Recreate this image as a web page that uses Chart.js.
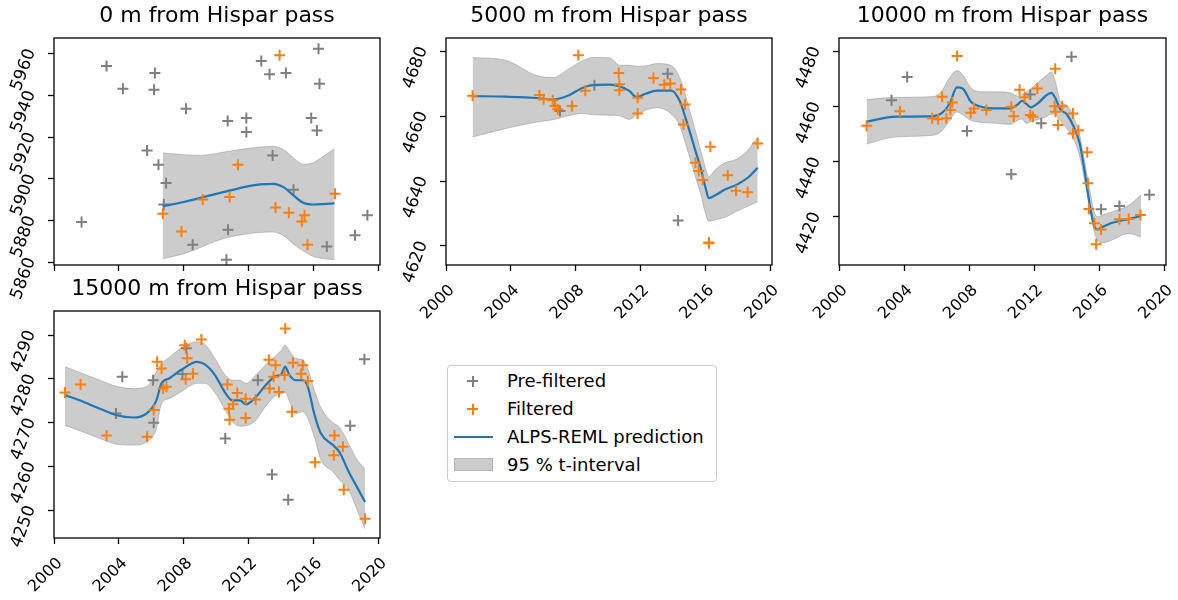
<!DOCTYPE html>
<html>
<head>
<meta charset="utf-8">
<script src="https://cdn.jsdelivr.net/npm/chart.js@4.4.1/dist/chart.umd.min.js"></script>
<style>
  body {
    margin: 0;
    background: #fff;
    width: 1178px;
    height: 600px;
    overflow: hidden;
    position: relative;
    font-family: "DejaVu Sans", sans-serif;
  }
  canvas.panel { position: absolute; }
  #legend {
    position: absolute;
    left: 447px;
    top: 365px;
    width: 270px;
    height: 117px;
    border: 1px solid #cccccc;
    border-radius: 4px;
    box-sizing: border-box;
  }
  #legend .row {
    position: absolute;
    left: 0;
    width: 100%;
    height: 22px;
  }
  #legend .txt {
    position: absolute;
    left: 59px;
    top: 0;
    line-height: 22px;
    font-size: 18px;
    color: #000;
    white-space: nowrap;
  }
  #legend .plus-h, #legend .plus-v { position: absolute; }
  #legend .plus-h { left: 19px; top: 10px; width: 11px; height: 2px; }
  #legend .plus-v { left: 23.5px; top: 5.5px; width: 2px; height: 11px; }
  #legend .line { position: absolute; left: 6px; top: 10px; width: 39px; height: 2px; background: #1f77b4; }
  #legend .band {
    position: absolute; left: 6px; top: 4px; width: 39px; height: 13px;
    background: rgba(128,128,128,0.4); box-sizing: border-box;
    border: 1px solid rgba(128,128,128,0.3);
  }
</style>
</head>
<body>

<canvas class="panel" id="panel0" width="394" height="327" style="left:0px; top:0px;"></canvas>
<canvas class="panel" id="panel1" width="394" height="327" style="left:392px; top:0px;"></canvas>
<canvas class="panel" id="panel2" width="395" height="327" style="left:785px; top:0px;"></canvas>
<canvas class="panel" id="panel3" width="394" height="327" style="left:0px; top:273px;"></canvas>

<div id="legend">
  <div class="row" style="top:4px;">
    <span class="plus-h" style="background:#808080;"></span><span class="plus-v" style="background:#808080;"></span>
    <span class="txt">Pre-filtered</span>
  </div>
  <div class="row" style="top:32px;">
    <span class="plus-h" style="background:#ff7f0e;"></span><span class="plus-v" style="background:#ff7f0e;"></span>
    <span class="txt">Filtered</span>
  </div>
  <div class="row" style="top:60px;">
    <span class="line"></span>
    <span class="txt">ALPS-REML prediction</span>
  </div>
  <div class="row" style="top:88px;">
    <span class="band"></span>
    <span class="txt">95 % t-interval</span>
  </div>
</div>

<script>
// Glacier surface elevation (m) against time (decimal years), at four
// distances from Hispar pass. Grey = all (pre-filtered) points, orange =
// points kept after filtering, blue = ALPS-REML fit with its 95 % band.

// ---------------------------------------------------------------- shared
var xTicks = [2000, 2004, 2008, 2012, 2016, 2020];
var xRange = [2000, 2020.1];

// ---------------------------------------------------------------- 0 m
var title0 = "0 m from Hispar pass";
var yTicks0 = [5860, 5880, 5900, 5920, 5940, 5960];
var yRange0 = [5858.7, 5967.5];
var preYears0 = [2001.70, 2003.24, 2004.25, 2006.22, 2006.17, 2005.74, 2006.44, 2006.91, 2006.77, 2008.14,
                 2008.55, 2010.71, 2010.73, 2010.63, 2011.86, 2011.86, 2012.78, 2013.29, 2014.30, 2013.48,
                 2014.77, 2016.31, 2016.37, 2015.86, 2016.21, 2016.82, 2018.56, 2019.32];
var preElev0  = [5879.3, 5954.1, 5943.2, 5950.7, 5942.7, 5913.6, 5906.8, 5898.0, 5887.7, 5933.6,
                 5868.4, 5927.7, 5875.6, 5861.2, 5929.1, 5922.4, 5956.5, 5950.1, 5950.7, 5911.2,
                 5894.8, 5962.4, 5945.6, 5929.1, 5923.2, 5867.6, 5872.9, 5882.5];
var filtYears0 = [2006.71, 2007.86, 2009.17, 2010.83, 2011.34, 2013.91, 2013.66, 2014.48, 2015.28, 2015.45, 2015.63, 2017.33];
var filtElev0  = [5883.3, 5874.8, 5890.1, 5891.3, 5906.8, 5959.2, 5886.3, 5883.7, 5879.6, 5882.5, 5868.4, 5892.9];
var predYears0 = [2006.7, 2008.0, 2009.0, 2010.0, 2011.0, 2012.0, 2012.7, 2013.5, 2014.2, 2014.8, 2015.4, 2016.0, 2016.6, 2017.3];
var pred0      = [5886.9, 5888.9, 5890.8, 5892.8, 5894.7, 5896.5, 5897.3, 5897.6, 5895.8, 5891.8, 5888.4, 5887.7, 5887.9, 5888.3];
var upper0     = [5912.4, 5911.6, 5911.2, 5912.2, 5913.5, 5914.6, 5915.2, 5915.6, 5913.8, 5909.8, 5907.0, 5907.8, 5910.8, 5914.4];
var lower0     = [5861.7, 5864.1, 5867.0, 5870.2, 5872.4, 5873.7, 5874.3, 5874.5, 5872.5, 5868.5, 5865.3, 5862.8, 5861.8, 5861.2];

// ---------------------------------------------------------------- 5000 m
var title1 = "5000 m from Hispar pass";
var yTicks1 = [4620, 4640, 4660, 4680];
var yRange1 = [4614.1, 4684.1];
var preYears1 = [2007.03, 2009.15, 2013.67, 2014.31];
var preElev1  = [4661.6, 4669.5, 4673.1, 4627.8];
var filtYears1 = [2001.64, 2005.76, 2006.02, 2006.58, 2006.72, 2006.89, 2007.77, 2008.16, 2008.59, 2010.65,
                  2010.69, 2010.69, 2011.82, 2011.82, 2012.79, 2013.46, 2013.83, 2014.49, 2014.74, 2014.64,
                  2015.38, 2015.58, 2015.83, 2016.30, 2016.20, 2016.22, 2017.37, 2017.88, 2018.60, 2019.22];
var filtElev1  = [4666.3, 4666.5, 4665.2, 4664.9, 4663.1, 4662.1, 4663.1, 4678.8, 4667.8, 4673.3,
                  4669.8, 4668.0, 4665.7, 4660.8, 4671.8, 4669.7, 4670.1, 4668.2, 4663.6, 4657.4,
                  4645.6, 4643.1, 4640.3, 4650.6, 4621.0, 4620.8, 4641.8, 4637.0, 4636.5, 4651.6];
var predYears1 = [2001.64, 2003.7, 2005.6, 2006.6, 2007.6, 2008.4, 2009.1, 2010.1, 2010.7, 2011.3,
                  2011.75, 2012.3, 2013.0, 2013.9, 2014.4, 2014.8, 2015.1, 2015.4, 2015.7, 2016.0,
                  2016.2, 2016.6, 2017.2, 2017.9, 2018.6, 2019.22];
var pred1      = [4666.2, 4666.0, 4665.6, 4665.1, 4666.5, 4668.7, 4669.6, 4669.7, 4669.2, 4667.8,
                  4665.9, 4666.9, 4667.9, 4667.9, 4664.8, 4659.0, 4654.0, 4649.0, 4644.0, 4638.0,
                  4634.7, 4635.6, 4637.4, 4638.8, 4641.0, 4644.1];
var upper1     = [4678.1, 4677.2, 4672.5, 4671.9, 4674.7, 4677.0, 4678.1, 4678.0, 4675.7, 4675.7,
                  4675.4, 4675.5, 4676.2, 4675.6, 4672.0, 4665.9, 4660.5, 4655.0, 4649.5, 4644.0,
                  4641.3, 4643.5, 4645.6, 4646.7, 4649.5, 4653.6];
var lower1     = [4653.6, 4656.2, 4658.2, 4658.9, 4660.2, 4660.8, 4660.4, 4660.3, 4660.1, 4659.0,
                  4660.3, 4661.8, 4662.6, 4660.6, 4657.2, 4651.0, 4646.0, 4641.0, 4636.0, 4630.0,
                  4627.6, 4628.0, 4628.8, 4630.6, 4632.2, 4633.6];

// ---------------------------------------------------------------- 10000 m
var title2 = "10000 m from Hispar pass";
var yTicks2 = [4420, 4440, 4460, 4480];
var yRange2 = [4402.6, 4484.8];
var preYears2 = [2003.23, 2004.19, 2007.87, 2010.59, 2011.76, 2012.43, 2014.29, 2016.11, 2017.24, 2019.08];
var preElev2  = [4462.3, 4470.7, 4451.1, 4435.5, 4464.3, 4453.9, 4478.0, 4422.8, 4424.0, 4428.0];
var filtYears2 = [2001.70, 2003.74, 2005.73, 2006.09, 2006.34, 2006.60, 2006.85, 2006.97, 2007.26, 2008.10,
                  2008.30, 2009.06, 2010.59, 2010.74, 2011.10, 2011.41, 2011.76, 2011.92, 2012.19, 2013.29,
                  2013.25, 2013.31, 2013.46, 2013.72, 2014.38, 2014.38, 2014.72, 2015.26, 2015.30, 2015.36,
                  2015.70, 2015.81, 2016.11, 2017.24, 2017.81, 2018.53];
var filtElev2  = [4453.0, 4458.3, 4455.7, 4455.4, 4463.5, 4455.7, 4458.7, 4461.4, 4478.3, 4457.7,
                  4459.3, 4458.7, 4459.9, 4456.5, 4466.1, 4463.3, 4456.9, 4456.3, 4466.5, 4473.7,
                  4460.1, 4458.1, 4453.3, 4460.1, 4457.5, 4450.2, 4451.4, 4443.4, 4432.2, 4422.9,
                  4417.7, 4410.1, 4415.5, 4419.2, 4419.3, 4420.7];
var predYears2 = [2001.7, 2003.5, 2005.8, 2006.3, 2006.8, 2007.25, 2007.6, 2008.1, 2008.8, 2009.5,
                  2010.5, 2011.0, 2011.25, 2011.5, 2011.8, 2012.2, 2012.7, 2013.05, 2013.3, 2013.6,
                  2014.0, 2014.4, 2014.8, 2015.1, 2015.4, 2015.7, 2015.9, 2016.2, 2016.8, 2017.8, 2018.57];
var pred2      = [4454.5, 4456.3, 4456.5, 4457.5, 4461.0, 4466.9, 4466.5, 4461.8, 4459.8, 4459.3,
                  4459.3, 4460.8, 4462.0, 4461.0, 4459.7, 4461.0, 4463.8, 4464.9, 4463.0, 4459.0,
                  4457.2, 4453.0, 4446.5, 4436.5, 4424.9, 4416.5, 4415.5, 4416.4, 4417.9, 4419.2, 4420.4];
var upper2     = [4462.5, 4463.3, 4463.6, 4465.5, 4470.5, 4473.0, 4471.5, 4466.8, 4465.3, 4465.3,
                  4465.0, 4463.8, 4464.3, 4465.3, 4466.5, 4468.6, 4471.0, 4472.5, 4469.0, 4462.0,
                  4460.5, 4456.5, 4449.5, 4440.0, 4430.0, 4421.5, 4420.1, 4420.7, 4421.9, 4424.2, 4428.0];
var lower2     = [4446.4, 4449.0, 4449.6, 4451.0, 4455.0, 4458.0, 4457.0, 4455.0, 4454.2, 4454.0,
                  4453.5, 4455.0, 4455.5, 4453.9, 4454.5, 4455.2, 4456.2, 4457.2, 4457.0, 4454.8,
                  4452.0, 4448.5, 4441.8, 4433.0, 4423.5, 4414.5, 4411.5, 4410.6, 4411.7, 4414.0, 4412.7];

// ---------------------------------------------------------------- 15000 m
var title3 = "15000 m from Hispar pass";
var yTicks3 = [4250, 4260, 4270, 4280, 4290];
var yRange3 = [4243.7, 4295.5];
var preYears3 = [2003.82, 2004.21, 2006.11, 2006.15, 2007.92, 2008.16, 2010.56, 2012.57, 2013.44, 2014.44, 2018.26, 2019.14];
var preElev3  = [4272.1, 4280.5, 4279.7, 4270.0, 4281.1, 4287.0, 4266.4, 4279.7, 4258.2, 4252.4, 4269.3, 4284.5];
var filtYears3 = [2000.68, 2001.64, 2003.24, 2005.74, 2006.15, 2006.36, 2006.63, 2006.73, 2006.93, 2008.06,
                  2008.21, 2008.12, 2008.57, 2009.09, 2010.69, 2010.79, 2010.83, 2011.04, 2011.30, 2011.82,
                  2011.82, 2012.43, 2013.25, 2013.29, 2013.54, 2013.66, 2013.87, 2014.26, 2014.22, 2014.67,
                  2014.73, 2015.34, 2015.24, 2015.65, 2016.10, 2017.29, 2017.25, 2017.81, 2017.87, 2019.18];
var filtElev3  = [4276.9, 4278.7, 4267.1, 4266.8, 4272.9, 4283.9, 4282.4, 4277.8, 4278.2, 4287.7,
                  4284.7, 4279.9, 4281.2, 4289.0, 4278.7, 4273.2, 4270.7, 4274.2, 4276.8, 4275.5,
                  4271.1, 4275.3, 4284.4, 4277.8, 4280.5, 4283.1, 4277.0, 4291.5, 4280.9, 4272.5,
                  4283.7, 4283.1, 4281.2, 4279.5, 4261.0, 4267.1, 4262.6, 4264.5, 4254.7, 4248.1];
var predYears3 = [2000.68, 2001.8, 2002.83, 2003.86, 2004.88, 2005.7, 2006.3, 2006.63, 2007.1, 2007.9,
                  2008.8, 2009.3, 2009.9, 2010.6, 2011.0, 2011.45, 2011.85, 2012.45, 2013.1, 2013.7,
                  2014.0, 2014.25, 2014.5, 2014.9, 2015.35, 2015.65, 2016.05, 2016.45, 2017.2, 2017.6,
                  2018.2, 2018.7, 2019.18];
var pred3      = [4276.3, 4274.8, 4273.2, 4271.7, 4271.2, 4272.1, 4275.0, 4279.0, 4280.1, 4282.2,
                  4283.9, 4283.3, 4281.0, 4276.6, 4275.1, 4275.1, 4274.2, 4275.9, 4278.8, 4280.7,
                  4281.0, 4282.8, 4281.0, 4279.7, 4279.7, 4278.2, 4272.0, 4267.6, 4264.9, 4263.3,
                  4258.6, 4255.2, 4251.9];
var upper3     = [4282.8, 4281.2, 4279.7, 4278.3, 4277.8, 4278.2, 4281.5, 4283.5, 4284.9, 4287.2,
                  4288.5, 4287.9, 4284.8, 4280.7, 4279.7, 4279.7, 4279.0, 4280.9, 4283.4, 4285.4,
                  4286.5, 4287.7, 4286.5, 4284.7, 4284.3, 4282.3, 4277.5, 4273.5, 4270.0, 4269.0,
                  4265.0, 4261.5, 4259.5];
var lower3     = [4269.4, 4267.9, 4266.4, 4265.1, 4264.9, 4265.6, 4268.5, 4274.4, 4275.5, 4277.2,
                  4279.0, 4279.0, 4277.0, 4272.6, 4270.2, 4269.2, 4269.3, 4270.6, 4274.0, 4276.3,
                  4276.5, 4277.0, 4275.0, 4272.1, 4272.5, 4271.0, 4266.8, 4261.6, 4258.8, 4257.0,
                  4254.4, 4250.0, 4245.8];

// ----------------------------------------------------------------------------

var FONT = "DejaVu Sans";
var ORANGE = "#ff7f0e";
var GREY = "#808080";
var BLUE = "#1f77b4";
var BAND = "rgba(128,128,128,0.4)";

// Pairs up two parallel arrays into Chart.js {x, y} points.
function zip(xs, ys) {
  return xs.map(function(x, i) { return { x: x, y: ys[i] }; });
}

// Draws the black box around the plotting area, like matplotlib spines.
var framePlugin = {
  id: "frame",
  afterDatasetsDraw: function(chart) {
    var a = chart.chartArea;
    var ctx = chart.ctx;
    ctx.save();
    ctx.strokeStyle = "#000";
    ctx.lineWidth = 1.3;
    ctx.strokeRect(a.left, a.top, a.right - a.left, a.bottom - a.top);
    ctx.restore();
  }
};

// Keeps every panel's plot box the same size: the axes get a fixed
// thickness and their label overhang is ignored by the layout.
function fixSize(prop, size) {
  return function(s) {
    s[prop] = size;
    s.paddingLeft = 0;
    s.paddingRight = 0;
    s.paddingTop = 0;
    s.paddingBottom = 0;
  };
}

function scatterSet(label, xs, ys, color) {
  return {
    label: label,
    data: zip(xs, ys),
    pointStyle: "cross",
    pointRadius: 5.5,
    pointHoverRadius: 5.5,
    pointBorderWidth: 2,
    borderColor: color,
    backgroundColor: color
  };
}

function lineSet(label, xs, ys, color, width, fill) {
  return {
    type: "line",
    label: label,
    data: zip(xs, ys),
    borderColor: color,
    backgroundColor: BAND,
    borderWidth: width,
    pointRadius: 0,
    fill: fill,
    cubicInterpolationMode: "monotone"
  };
}

// Builds one subplot.
function makePanel(canvasId, p) {
  return new Chart(document.getElementById(canvasId), {
    type: "scatter",
    data: {
      datasets: [
        scatterSet("Filtered", p.filtYears, p.filtElev, ORANGE),
        lineSet("ALPS-REML prediction", p.predYears, p.pred, BLUE, 2.2, false),
        scatterSet("Pre-filtered", p.preYears, p.preElev, GREY),
        lineSet("95 % t-interval", p.predYears, p.upper, BAND, 1, "+1"),
        lineSet("95 % t-interval (lower)", p.predYears, p.lower, BAND, 1, false)
      ]
    },
    options: {
      responsive: false,
      animation: false,
      events: [],
      layout: { padding: { left: 0, right: 14, top: 0, bottom: 0 } },
      plugins: {
        legend: { display: false },
        tooltip: { enabled: false },
        title: {
          display: true,
          text: p.title,
          fullSize: false,
          color: "#000",
          font: { family: FONT, size: 22, weight: "normal", lineHeight: 1.2 },
          padding: { top: 3, bottom: 8.6 }
        }
      },
      scales: {
        x: {
          type: "linear",
          min: xRange[0],
          max: xRange[1],
          afterBuildTicks: function(s) { s.ticks = xTicks.map(function(v) { return { value: v }; }); },
          afterFit: fixSize("height", 62),
          border: { display: false },
          grid: { drawOnChartArea: false, drawTicks: true, tickLength: 6, tickWidth: 1.3, tickColor: "#000" },
          ticks: {
            display: p.showXLabels,
            autoSkip: false,
            minRotation: 45,
            maxRotation: 45,
            padding: 10,
            labelOffset: 6,
            color: "#000",
            font: { family: FONT, size: 16 },
            callback: function(v) { return String(v); }
          }
        },
        y: {
          type: "linear",
          min: p.yRange[0],
          max: p.yRange[1],
          afterBuildTicks: function(s) { s.ticks = p.yTicks.map(function(v) { return { value: v }; }); },
          afterFit: fixSize("width", 54),
          border: { display: false },
          grid: { drawOnChartArea: false, drawTicks: true, tickLength: 6, tickWidth: 1.3, tickColor: "#000" },
          ticks: {
            autoSkip: false,
            minRotation: 70,
            maxRotation: 70,
            padding: 17,
            labelOffset: -4,
            color: "#000",
            font: { family: FONT, size: 17 },
            callback: function(v) { return String(v); }
          }
        }
      }
    },
    plugins: [framePlugin]
  });
}

makePanel("panel0", {
  title: title0, yTicks: yTicks0, yRange: yRange0, showXLabels: false,
  preYears: preYears0, preElev: preElev0, filtYears: filtYears0, filtElev: filtElev0,
  predYears: predYears0, pred: pred0, upper: upper0, lower: lower0
});
makePanel("panel1", {
  title: title1, yTicks: yTicks1, yRange: yRange1, showXLabels: true,
  preYears: preYears1, preElev: preElev1, filtYears: filtYears1, filtElev: filtElev1,
  predYears: predYears1, pred: pred1, upper: upper1, lower: lower1
});
makePanel("panel2", {
  title: title2, yTicks: yTicks2, yRange: yRange2, showXLabels: true,
  preYears: preYears2, preElev: preElev2, filtYears: filtYears2, filtElev: filtElev2,
  predYears: predYears2, pred: pred2, upper: upper2, lower: lower2
});
makePanel("panel3", {
  title: title3, yTicks: yTicks3, yRange: yRange3, showXLabels: true,
  preYears: preYears3, preElev: preElev3, filtYears: filtYears3, filtElev: filtElev3,
  predYears: predYears3, pred: pred3, upper: upper3, lower: lower3
});
</script>
</body>
</html>
